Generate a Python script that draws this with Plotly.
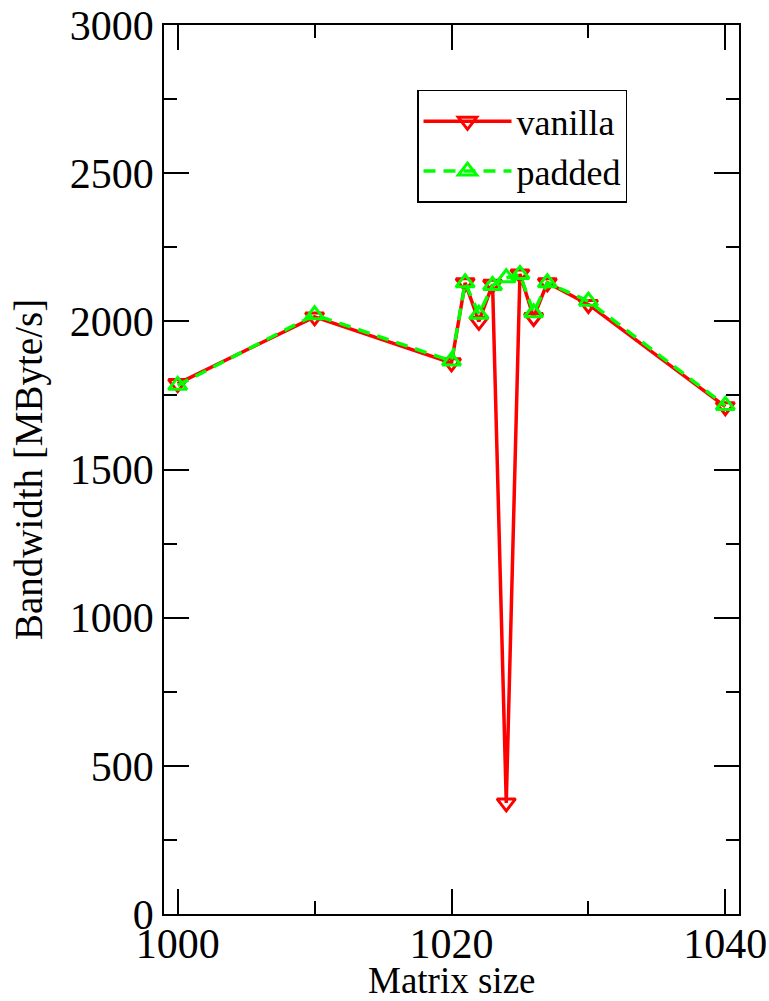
import plotly.graph_objects as go

matrix_size = [1000, 1010, 1020, 1021, 1022, 1023, 1024, 1025, 1026, 1027, 1030, 1040]
vanilla = [1790, 2015, 1860, 2130, 2000, 2125, 375, 2160, 2013, 2130, 2057, 1712]
padded = [1784, 2022, 1866, 2130, 2024, 2121, 2147, 2158, 2029, 2130, 2068, 1716]

FONT = "Liberation Serif"

fig = go.Figure()
fig.add_trace(go.Scatter(
    x=matrix_size, y=vanilla, name="vanilla", mode="lines+markers",
    line=dict(color="#ff0000", width=3.5),
    marker=dict(symbol="triangle-down-open", size=16, color="#ff0000",
                line=dict(width=3, color="#ff0000")),
))
fig.add_trace(go.Scatter(
    x=matrix_size, y=padded, name="padded", mode="lines+markers",
    line=dict(color="#00ff00", width=3.5, dash="12px,8px"),
    marker=dict(symbol="triangle-up-open", size=16, color="#00ff00",
                line=dict(width=3, color="#00ff00")),
))

axis_common = dict(
    showline=True, linecolor="black", linewidth=1.5, mirror="ticks",
    ticks="inside", ticklen=25, tickwidth=1.5, tickcolor="black",
    showgrid=False, zeroline=False, automargin=False,
    tickfont=dict(family=FONT, size=42, color="black"),
)

fig.update_layout(
    width=769, height=1001,
    margin=dict(l=164, r=30, t=25, b=87, autoexpand=False),
    plot_bgcolor="white", paper_bgcolor="white",
    font=dict(family=FONT, color="black"),
    xaxis=dict(range=[999, 1041], tickvals=[1000, 1020, 1040],
               ticklabelstandoff=-8,
               minor=dict(tickvals=[1010, 1030], ticks="inside", ticklen=13,
                          tickwidth=1.5, tickcolor="black"),
               **axis_common),
    yaxis=dict(range=[0, 3000], dtick=500, tick0=0,
               minor=dict(dtick=250, ticks="inside", ticklen=13,
                          tickwidth=1.5, tickcolor="black"),
               title=dict(text="Bandwidth [MByte/s]", font=dict(family=FONT, size=39), standoff=15),
               **axis_common),
    legend=dict(x=0.440, y=0.927, xanchor="left", yanchor="top",
                bgcolor="white", bordercolor="black", borderwidth=1.5,
                font=dict(family=FONT, size=36, color="black"),
                itemwidth=88, tracegroupgap=0),
    showlegend=True,
    annotations=[dict(text="Matrix size", xref="paper", yref="paper", x=0.5, y=0,
                      xanchor="center", yanchor="middle", yshift=-66, showarrow=False,
                      font=dict(family=FONT, size=37, color="black"))],
)

fig.write_html("out.html", config={"displayModeBar": False},
               post_script="document.body.style.margin='0';")
